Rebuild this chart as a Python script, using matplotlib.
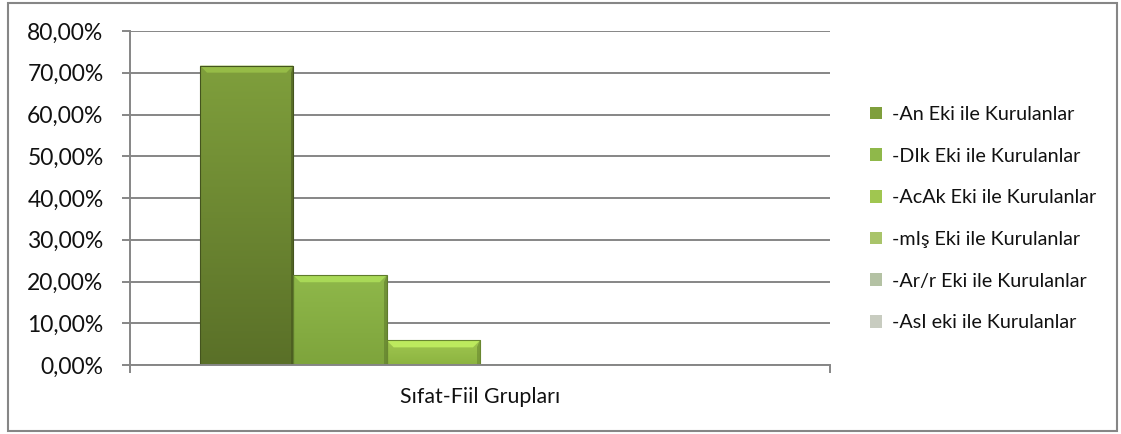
import matplotlib
matplotlib.use("Agg")
import matplotlib.pyplot as plt
import numpy as np
from matplotlib.patches import Rectangle, Polygon
from matplotlib.colors import LinearSegmentedColormap, to_rgb
from matplotlib.ticker import FuncFormatter

category = "Sıfat-Fiil Grupları"
series = ["-An Eki ile Kurulanlar", "-DIk Eki ile Kurulanlar", "-AcAk Eki ile Kurulanlar",
          "-mIş Eki ile Kurulanlar", "-Ar/r Eki ile Kurulanlar", "-AsI eki ile Kurulanlar"]
values = [71.7, 21.5, 5.9, 0.3, 0.3, 0.1]
yticks = [0, 10, 20, 30, 40, 50, 60, 70, 80]

top_colors = ["#7f9f3c", "#8fb84a", "#a0c650", "#a9c46a", "#b4c2a4", "#c8ccc0"]
bot_colors = ["#5a7028", "#7ea43c", "#8cb440", "#96b05a", "#a0ae92", "#b8bcb0"]

plt.rcParams['font.family'] = ['Lato', 'DejaVu Sans']

W, H, DPI = 1121, 434, 100
fig = plt.figure(figsize=(W / DPI, H / DPI), dpi=DPI)
fig.patch.set_facecolor("white")
fig.add_artist(Rectangle((8 / W, 3 / H), (1117 - 8) / W, (431 - 3) / H, transform=fig.transFigure,
                         fill=False, edgecolor="#868686", linewidth=1.5))

L, R, T, B = 130, 830, 31, 365
ax = fig.add_axes([L / W, (H - B) / H, (R - L) / W, (B - T) / H])
ax.set_xlim(-0.5, 0.5)
ax.set_ylim(0, 80)

n = len(series)
bw = 0.8 / n
xs = [-0.4 + bw * (i + 0.5) for i in range(n)]

ax.set_yticks(yticks)
ax.yaxis.set_major_formatter(FuncFormatter(lambda v, p: f"{v:.2f}".replace(".", ",") + "%"))
ax.grid(axis="y", color="#868686", linewidth=1.4)
ax.set_axisbelow(True)
for s in ["top", "right"]:
    ax.spines[s].set_visible(False)
ax.spines["left"].set_color("#868686")
ax.spines["left"].set_linewidth(1.4)
ax.spines["bottom"].set_color("#868686")
ax.spines["bottom"].set_linewidth(1.4)
ax.tick_params(axis="y", length=6, width=1.4, color="#868686", labelsize=16.5, pad=13,
               labelcolor="#111111")
ax.set_xticks([-0.5, 0.5])
ax.set_xticklabels(["", ""])
ax.tick_params(axis="x", length=6, width=1.4, color="#868686")
ax.text(0, -0.066, category, transform=ax.get_xaxis_transform(), ha="center", va="top",
        fontsize=15.4, color="#111111")

# pixel -> data scales
sx = 1.0 / (R - L)
sy = 80.0 / (B - T)
bev = 7

handles = []
for i, (x, v) in enumerate(zip(xs, values)):
    bars = ax.bar(x, v, width=bw, color=top_colors[i], edgecolor="none", label=series[i], zorder=2)
    handles.append(bars[0])
    rect = bars[0]
    cmap = LinearSegmentedColormap.from_list("g", [bot_colors[i], top_colors[i]])
    grad = np.linspace(0, 1, 100).reshape(-1, 1)
    x0, x1 = x - bw / 2, x + bw / 2
    if v > 0.5:
        im = ax.imshow(grad, cmap=cmap, origin="lower", extent=[x0, x1, 0, v], aspect="auto",
                       zorder=2.1, interpolation="bicubic")
        im.set_clip_path(rect)
        bx, by = bev * sx, min(bev * sy, v / 2)
        hi = np.clip(np.array(to_rgb(top_colors[i])) * 1.18, 0, 1)
        dk = np.array(to_rgb(bot_colors[i])) * 0.75
        ax.add_patch(Polygon([[x0, v], [x1, v], [x1 - bx, v - by], [x0 + bx, v - by]],
                             closed=True, facecolor=hi, edgecolor="none", zorder=2.2))
        ax.add_patch(Polygon([[x1, v], [x1, 0], [x1 - bx * 0.4, 0], [x1 - bx * 0.4, v - by]],
                             closed=True, facecolor=dk, edgecolor="none", alpha=0.6, zorder=2.2))
        ax.add_patch(Rectangle((x0, 0), bw, v, fill=False, edgecolor=dk, linewidth=0.8, zorder=2.3))
ax.set_xlim(-0.5, 0.5)
ax.set_ylim(0, 80)

leg = fig.legend(handles=handles, labels=series, loc="upper left",
                 bbox_to_anchor=(870 / W, (H - 106) / H), frameon=False, fontsize=14.2,
                 handlelength=0.6, handleheight=0.6, handletextpad=0.5, labelspacing=1.25,
                 borderaxespad=0, borderpad=0)
for t in leg.get_texts():
    t.set_color("#111111")

fig.savefig("out.png", dpi=DPI)
